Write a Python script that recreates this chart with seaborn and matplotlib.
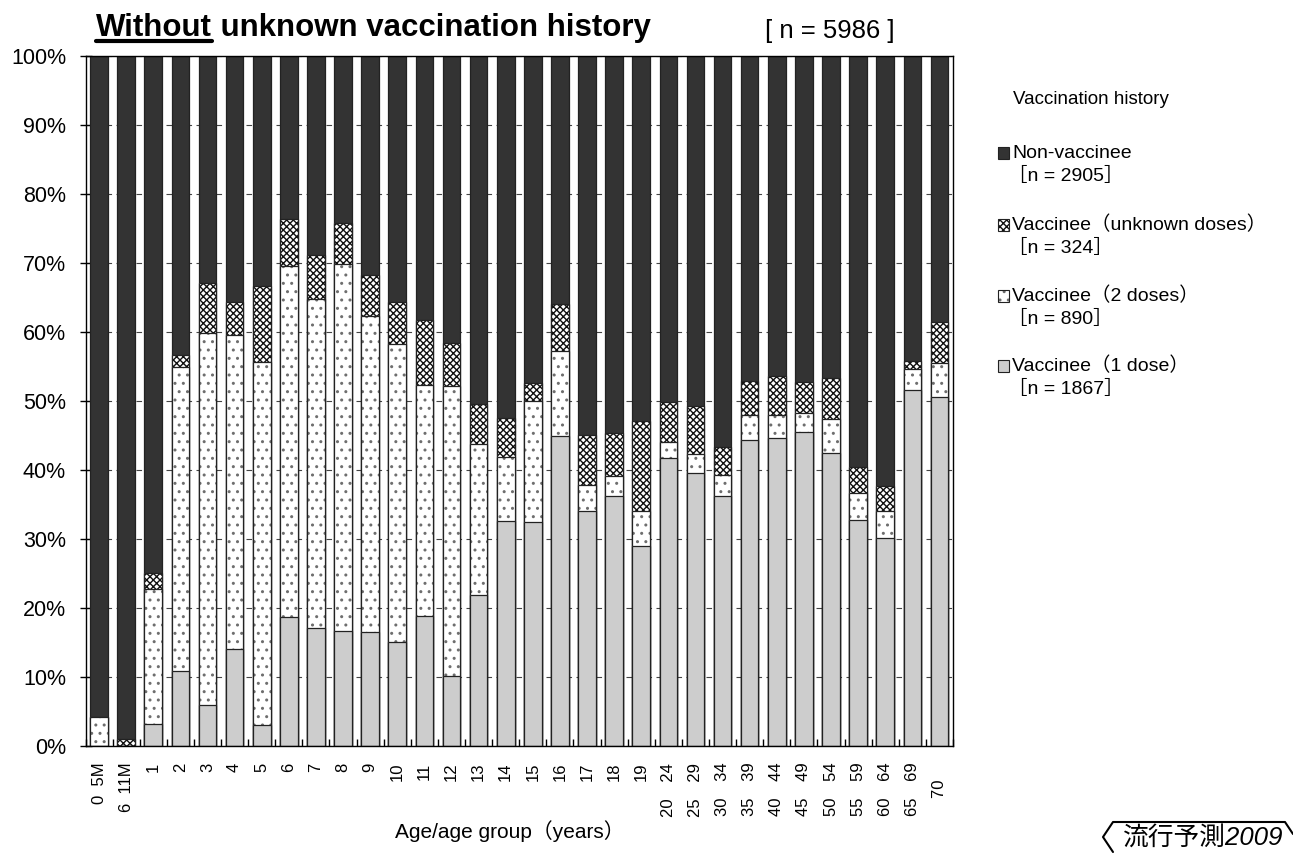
import numpy as np
import matplotlib.pyplot as plt
from matplotlib.patches import Rectangle
from matplotlib.lines import Line2D
import seaborn as sns

sns.set_theme(style="white")
plt.rcParams['font.family'] = ['Liberation Sans', 'Noto Sans CJK JP']
plt.rcParams['hatch.linewidth'] = 1.0
for key in ['text.color', 'axes.labelcolor', 'xtick.color', 'ytick.color']:
    plt.rcParams[key] = 'black'

# age groups (x axis)
ages = ["0  5M", "6  11M", "1", "2", "3", "4", "5", "6", "7", "8", "9", "10",
        "11", "12", "13", "14", "15", "16", "17", "18", "19",
        "20\u300024", "25\u300029", "30\u300034", "35\u300039", "40\u300044",
        "45\u300049", "50\u300054", "55\u300059", "60\u300064", "65\u300069", "70\u3000"]

# share of each vaccination history (%) per age group
dose1 = [0, 0, 3.2, 10.9, 5.9, 14.1, 3.1, 18.7, 17.1, 16.6, 16.5, 15.1, 18.8, 10.1,
         21.9, 32.6, 32.5, 45.0, 34.1, 36.2, 29.0, 41.8, 39.6, 36.3, 44.4, 44.7,
         45.5, 42.4, 32.8, 30.2, 51.6, 50.6]
dose2 = [4.2, 0, 19.6, 44.0, 53.9, 45.5, 52.5, 50.8, 47.7, 53.3, 45.8, 43.1, 33.5, 42.1,
         21.9, 9.3, 17.5, 12.3, 3.7, 3.0, 5.0, 2.2, 2.7, 3.0, 3.5, 3.3,
         2.7, 5.0, 3.8, 3.8, 3.1, 4.9]
unknown = [0, 1.0, 2.3, 1.7, 7.3, 4.8, 11.0, 6.9, 6.3, 5.9, 6.0, 6.1, 9.4, 6.2,
           5.8, 5.7, 2.6, 6.8, 7.3, 6.2, 13.1, 5.9, 7.0, 4.0, 5.0, 5.6,
           4.6, 5.9, 3.8, 3.7, 1.1, 6.0]
non_vacc = [95.8, 99.0, 74.9, 43.4, 32.9, 35.6, 33.4, 23.6, 28.9, 24.2, 31.7, 35.7, 38.3, 41.6,
            50.4, 52.4, 47.4, 35.9, 54.9, 54.6, 52.9, 50.1, 50.7, 56.7, 47.1, 46.4,
            47.2, 46.7, 59.6, 62.3, 44.2, 38.5]

series_names = ["Non-vaccinee", "Vaccinee（unknown doses）", "Vaccinee（2 doses）", "Vaccinee（1 dose）"]
series_n = [2905, 324, 890, 1867]
total_n = 5986

# styles: face, hatch, hatch colour (top of the stack first)
styles = [("#333333", None, None),
          ("white", "xxxxx", "#111111"),
          ("white", "..", "#6e6e6e"),
          ("#cdcdcd", None, None)]

# stacked tops, bottom segment = dose1
stack = np.cumsum(np.array([dose1, dose2, unknown, non_vacc]), axis=0)
tops = [stack[3], stack[2], stack[1], stack[0]]

fig = plt.figure(figsize=(12.93, 8.65), dpi=100)
ax = fig.add_axes([85.5 / 1293, 1 - 746 / 865, (953 - 85.5) / 1293, (746 - 56) / 865])

for vals, (face, hatch, hcol) in zip(tops, styles):
    n0 = len(ax.patches)
    sns.barplot(x=ages, y=vals, color=face, saturation=1, width=0.65, errorbar=None, ax=ax)
    for p in ax.patches[n0:]:
        p.set_facecolor(face)
        p.set_linewidth(0)
        if hatch:
            p.set_edgecolor(hcol)
            p.set_hatch(hatch)
    n1 = len(ax.patches)
    sns.barplot(x=ages, y=vals, color=face, saturation=1, width=0.65, errorbar=None, ax=ax)
    for p in ax.patches[n1:]:
        p.set_facecolor('none')
        p.set_edgecolor('#222222')
        p.set_linewidth(0.9)

ax.set_xlim(-0.5, len(ages) - 0.5)
ax.set_ylim(0, 100)
ax.set_yticks(range(0, 101, 10))
ax.set_yticklabels([f"{v}%" for v in range(0, 101, 10)])
ax.set_xticks(range(len(ages)))
ax.set_xticklabels(ages, rotation=90, va='top', ha='center')
ax.set_xticks(np.arange(-0.5, len(ages)), minor=True)
ax.set_xlabel("")
ax.set_ylabel("")

ax.set_axisbelow(True)
ax.yaxis.grid(True, color='#444444', linestyle=(0, (5, 4)), linewidth=0.8)
ax.xaxis.grid(False)
for s in ax.spines.values():
    s.set_visible(True)
    s.set_color('black')
    s.set_linewidth(1)
ax.tick_params(axis='y', direction='inout', length=8, width=1, color='black',
               labelsize=15.5, pad=10, left=True)
ax.tick_params(axis='x', which='major', length=0, labelsize=12, pad=12)
ax.tick_params(axis='x', which='minor', direction='in', length=5, width=1,
               color='black', bottom=True)

fig.text(510 / 1293, 1 - 831 / 865, "Age/age group（years）", ha='center', va='center', fontsize=15)

# title with underlined first word
renderer = fig.canvas.get_renderer()
t1 = fig.text(96 / 1293, 1 - 36 / 865, "Without", fontsize=22.5, fontweight='bold', va='baseline')
bb = t1.get_window_extent(renderer=renderer)
fig.add_artist(Line2D([bb.x0 / 1293, bb.x1 / 1293], [(865 - 41) / 865] * 2,
                      color='black', linewidth=3, transform=fig.transFigure))
fig.text(bb.x1 / 1293, 1 - 36 / 865, " unknown vaccination history", fontsize=22.5,
         fontweight='bold', va='baseline')
fig.text(765 / 1293, 1 - 31 / 865, f"[ n = {total_n} ]", fontsize=18.5, va='center')

# legend
fig.text(1013 / 1293, 1 - 100 / 865, "Vaccination history", fontsize=13.5, va='center')
legend_y = [153, 225, 296, 366]
for name, n, (face, hatch, hcol), y in zip(series_names, series_n, styles, legend_y):
    box = Rectangle((998 / 1293, 1 - (y + 5.5) / 865), 11 / 1293, 11 / 865,
                    transform=fig.transFigure, facecolor=face, edgecolor=hcol or '#222222',
                    hatch=hatch, linewidth=0)
    fig.add_artist(box)
    fig.add_artist(Rectangle((998 / 1293, 1 - (y + 5.5) / 865), 11 / 1293, 11 / 865,
                             transform=fig.transFigure, facecolor='none',
                             edgecolor='#222222', linewidth=0.8))
    fig.text(1012 / 1293, 1 - y / 865, name, fontsize=14, va='center')
    fig.text(1008 / 1293, 1 - (y + 23) / 865, f"［n = {n}］", fontsize=14, va='center')

# source badge
bx = [1113, 1103, 1113, 1285, 1293]
by = [852, 837, 822, 822, 834]
fig.add_artist(Line2D([v / 1293 for v in bx], [1 - v / 865 for v in by], color='black',
                      linewidth=1.5, transform=fig.transFigure))
fig.text(1203 / 1293, 1 - 838 / 865, "流行予測2009", fontsize=18.5, style='italic',
         ha='center', va='center')

fig.savefig('out.png', dpi=100)
